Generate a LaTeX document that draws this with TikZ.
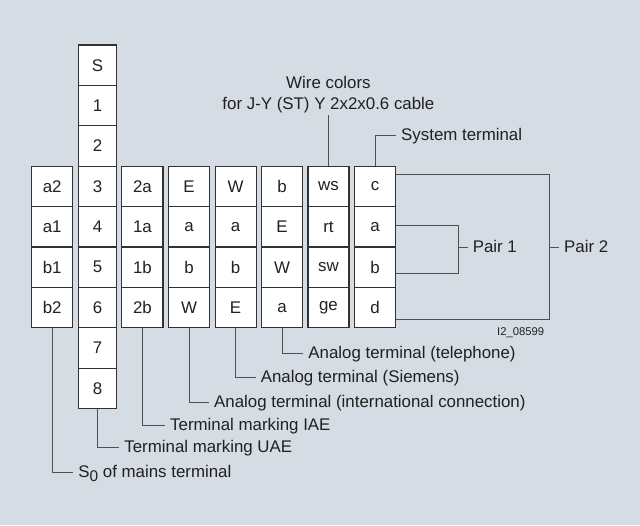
\documentclass[tikz,border=0pt]{standalone}
\usepackage{fontspec}
\setmainfont{Liberation Sans}
\usetikzlibrary{positioning,calc}
\definecolor{bgcol}{RGB}{213,220,228}
\definecolor{boxline}{RGB}{50,50,50}
\definecolor{leadcol}{RGB}{80,80,80}

\begin{document}
\begin{tikzpicture}[font=\fontsize{12}{15}\selectfont, text=black!87,
    cell/.style={draw=boxline, line width=0.85pt, fill=white, minimum width=1.025cm, minimum height=1.01cm, inner sep=0pt},
    lead/.style={draw=leadcol, line width=0.7pt},
    lbl/.style={anchor=west, inner xsep=3.5pt, inner ysep=0pt, text height=0.72em, text depth=0pt}]
    % background
    \fill[bgcol] (0,0) rectangle (16,-13.125);

    % terminal strips
    \foreach \k/\x/\ta/\tb/\tc/\td in {1/1.305/a2/a1/b1/b2, 3/3.56/2a/1a/1b/2b, 4/4.725/E/a/b/W,
        5/5.89/W/a/b/E, 6/7.05/b/E/W/a, 7/8.21/ws/rt/sw/ge, 8/9.375/c/a/b/d} {
        \node[cell] (c\k-0) at (\x, -4.66) {\ta};
        \node[cell] (c\k-1) at (\x, -5.67) {\tb};
        \node[cell] (c\k-2) at (\x, -6.68) {\tc};
        \node[cell] (c\k-3) at (\x, -7.69) {\td};
    }
    \foreach \i/\t in {0/S, 1/1, 2/2, 3/3, 4/4, 5/5, 6/6, 7/7, 8/8} {
        \node[cell, minimum width=0.96cm] (c2-\i) at (2.44, -1.63-\i*1.01) {\t};
    }

    % descriptions below
    \node[lbl] (s0) at (1.83, -11.82) {S\raisebox{-0.22em}{\fontsize{11}{12}\selectfont 0} of mains terminal};
    \node[lbl] (uae) at (2.98, -11.18) {Terminal marking UAE};
    \node[lbl] (iae) at (4.125, -10.64) {Terminal marking IAE};
    \node[lbl] (intl) at (5.225, -10.06) {Analog terminal (international connection)};
    \node[lbl] (siem) at (6.39, -9.44) {Analog terminal (Siemens)};
    \node[lbl] (tel) at (7.58, -8.83) {Analog terminal (telephone)};
    \draw[lead] (c1-3.south) |- (s0.west);
    \draw[lead] (c2-8.south) |- (uae.west);
    \draw[lead] (c3-3.south) |- (iae.west);
    \draw[lead] (c4-3.south) |- (intl.west);
    \draw[lead] (c5-3.south) |- (siem.west);
    \draw[lead] (c6-3.south) |- (tel.west);

    % descriptions above
    \node[align=center, inner sep=1pt] (colors) [above=1.27cm of c7-0] {Wire colors\\for J-Y (ST) Y 2x2x0.6 cable};
    \draw[lead] (c7-0.north) -- (colors.south);
    \node[lbl] (sys) at (9.9, -3.375) {System terminal};
    \draw[lead] (c8-0.north) |- (sys.west);

    % pairs
    \node[lbl] (pair1) at (11.69, -6.18) {Pair 1};
    \node[lbl] (pair2) at (13.975, -6.18) {Pair 2};
    \draw[lead] ($(c8-1.east)+(0,0.03)$) -| ($(pair1.west)+(-0.225,0)$) |- ($(c8-2.east)+(0,-0.145)$);
    \draw[lead] ($(pair1.west)+(-0.225,0)$) -- (pair1.west);
    \draw[lead] ($(c8-0.east)+(0,0.31)$) -| ($(pair2.west)+(-0.25,0)$) |- ($(c8-3.east)+(0,-0.3)$);
    \draw[lead] ($(pair2.west)+(-0.25,0)$) -- (pair2.west);

    \node[font=\fontsize{8}{10}\selectfont, anchor=base east] (code) at (13.725, -8.375) {I2\_08599};
\end{tikzpicture}
\end{document}
